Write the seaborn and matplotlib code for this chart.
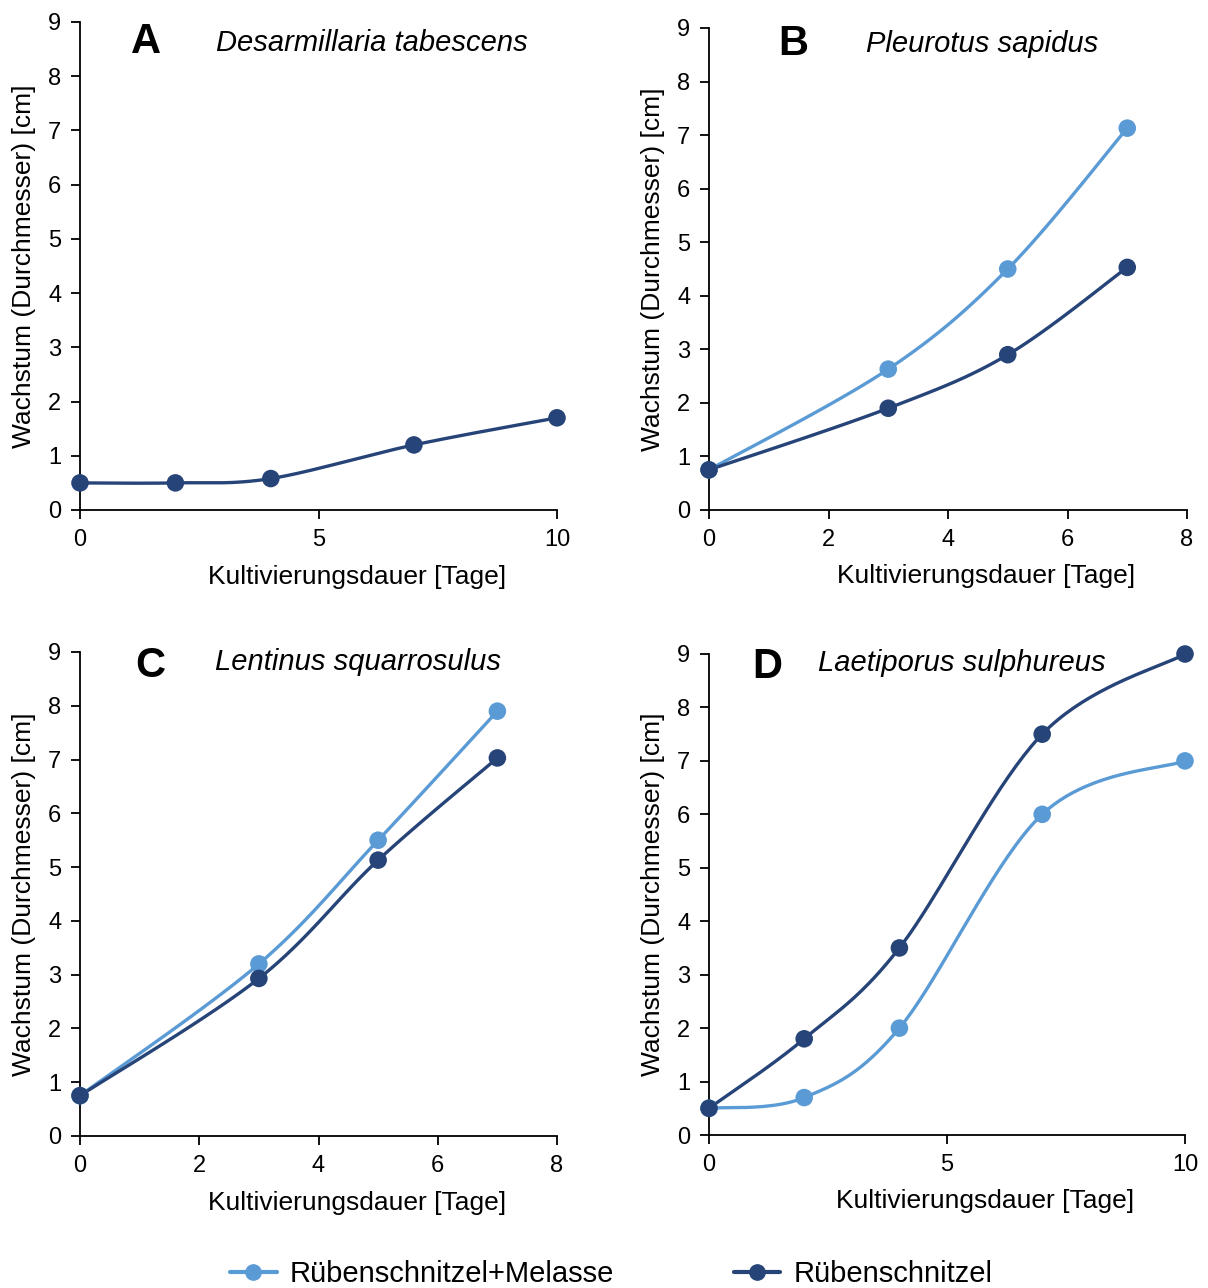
import numpy as np
import pandas as pd
import matplotlib
matplotlib.use("Agg")
import matplotlib.pyplot as plt
from matplotlib.lines import Line2D
import seaborn as sns

# Growth data (colony diameter, cm) over cultivation days
days_a = [0, 2, 4, 7, 10]
a_plain = [0.5, 0.5, 0.58, 1.2, 1.7]

days_b = [0, 3, 5, 7]
b_molasses = [0.75, 2.63, 4.5, 7.13]
b_plain = [0.75, 1.9, 2.9, 4.53]

days_c = [0, 3, 5, 7]
c_molasses = [0.75, 3.2, 5.5, 7.9]
c_plain = [0.75, 2.93, 5.13, 7.03]

days_d = [0, 2, 4, 7, 10]
d_molasses = [0.5, 0.7, 2.0, 6.0, 7.0]
d_plain = [0.5, 1.8, 3.5, 7.5, 9.0]

series_names = ["Rübenschnitzel+Melasse", "Rübenschnitzel"]
species = ["Desarmillaria tabescens", "Pleurotus sapidus",
           "Lentinus squarrosulus", "Laetiporus sulphureus"]
letters = ["A", "B", "C", "D"]
x_ticks = [[0, 5, 10], [0, 2, 4, 6, 8], [0, 2, 4, 6, 8], [0, 5, 10]]
y_ticks = list(range(0, 10))

LIGHT = "#5B9BD5"
DARK = "#264478"

sns.set_theme(style="ticks")
plt.rcParams["font.family"] = ["Liberation Sans", "DejaVu Sans"]
plt.rcParams["text.color"] = "black"


def smooth_curve(x, y, xspan, yspan, n=40):
    """Bezier smoothing through the points (Catmull-Rom style control points)."""
    p = np.column_stack([np.asarray(x, float) / xspan, np.asarray(y, float) / yspan])
    pts = [p[0]] + list(p) + [p[-1]]
    out = []
    t = np.linspace(0, 1, n)[:, None]
    for i in range(1, len(pts) - 2):
        p0, p1, p2, p3 = pts[i - 1], pts[i], pts[i + 1], pts[i + 2]
        c1 = p1 + (p2 - p0) / 6.0
        c2 = p2 - (p3 - p1) / 6.0
        seg = ((1 - t) ** 3) * p1 + 3 * ((1 - t) ** 2) * t * c1 + 3 * (1 - t) * t ** 2 * c2 + t ** 3 * p2
        out.append(seg if i == 1 else seg[1:])
    seg = np.vstack(out)
    return seg[:, 0] * xspan, seg[:, 1] * yspan


def draw_series(ax, x, y, color, xspan):
    sx, sy = smooth_curve(x, y, xspan, 9.0)
    sns.lineplot(x=sx, y=sy, ax=ax, color=color, lw=2.4, sort=False,
                 estimator=None, legend=False, zorder=2)
    sns.scatterplot(x=x, y=y, ax=ax, color=color, s=160, edgecolor="none",
                    legend=False, zorder=3, clip_on=False)


fig = plt.figure(figsize=(12.08, 12.88), dpi=100)
W, H = 1208.0, 1288.0
boxes = [(80, 557, 22, 510), (709, 1187, 28, 510), (80, 557, 652, 1136), (709, 1185, 654, 1135)]
axes = []
for (l, r, t, b) in boxes:
    axes.append(fig.add_axes([l / W, 1 - b / H, (r - l) / W, (b - t) / H]))

panels = [
    (days_a, [None, a_plain], 10),
    (days_b, [b_molasses, b_plain], 8),
    (days_c, [c_molasses, c_plain], 8),
    (days_d, [d_molasses, d_plain], 10),
]

letter_pos = [(0.107, 0.959), (0.144, 0.967), (0.115, 0.971), (0.09, 0.973)]
title_pos = [(0.285, 0.957), (0.328, 0.967), (0.283, 0.979), (0.229, 0.981)]
for i, (ax, (days, (mol, plain), xmax)) in enumerate(zip(axes, panels)):
    if mol is not None:
        draw_series(ax, days, mol, LIGHT, xmax)
    draw_series(ax, days, plain, DARK, xmax)
    ax.set_xlim(0, xmax)
    ax.set_ylim(0, 9)
    ax.set_xticks(x_ticks[i])
    ax.set_yticks(y_ticks)
    sns.despine(ax=ax)
    for s in ("left", "bottom"):
        ax.spines[s].set_color("black")
        ax.spines[s].set_linewidth(1.3)
    ax.tick_params(axis="both", direction="out", length=6.5, width=1.3,
                   color="black", labelsize=17, labelcolor="black", pad=7)
    ax.set_xlabel("Kultivierungsdauer [Tage]", fontsize=19, color="black")
    ax.set_ylabel("Wachstum (Durchmesser) [cm]", fontsize=19, color="black")
    ax.xaxis.set_label_coords(0.58, -0.113)
    ax.yaxis.set_label_coords(-0.092, 0.5)
    lx, ly = letter_pos[i]
    tx, ty = title_pos[i]
    ax.text(lx, ly, letters[i], transform=ax.transAxes, fontsize=30,
            fontweight="bold", ha="left", va="center", color="black")
    ax.text(tx, ty, species[i], transform=ax.transAxes, fontsize=21,
            fontstyle="italic", ha="left", va="center", color="black")

handles = [
    Line2D([0], [0], color=LIGHT, lw=3, marker="o", markersize=11),
    Line2D([0], [0], color=DARK, lw=3, marker="o", markersize=11),
]
leg = fig.legend(handles, series_names, loc="center", bbox_to_anchor=(0.506, 1 - 1274 / H),
                 ncol=2, frameon=False, fontsize=21, handlelength=1.6, handletextpad=0.45,
                 columnspacing=4.1)
for txt in leg.get_texts():
    txt.set_color("black")

fig.savefig("out.png", dpi=100)
